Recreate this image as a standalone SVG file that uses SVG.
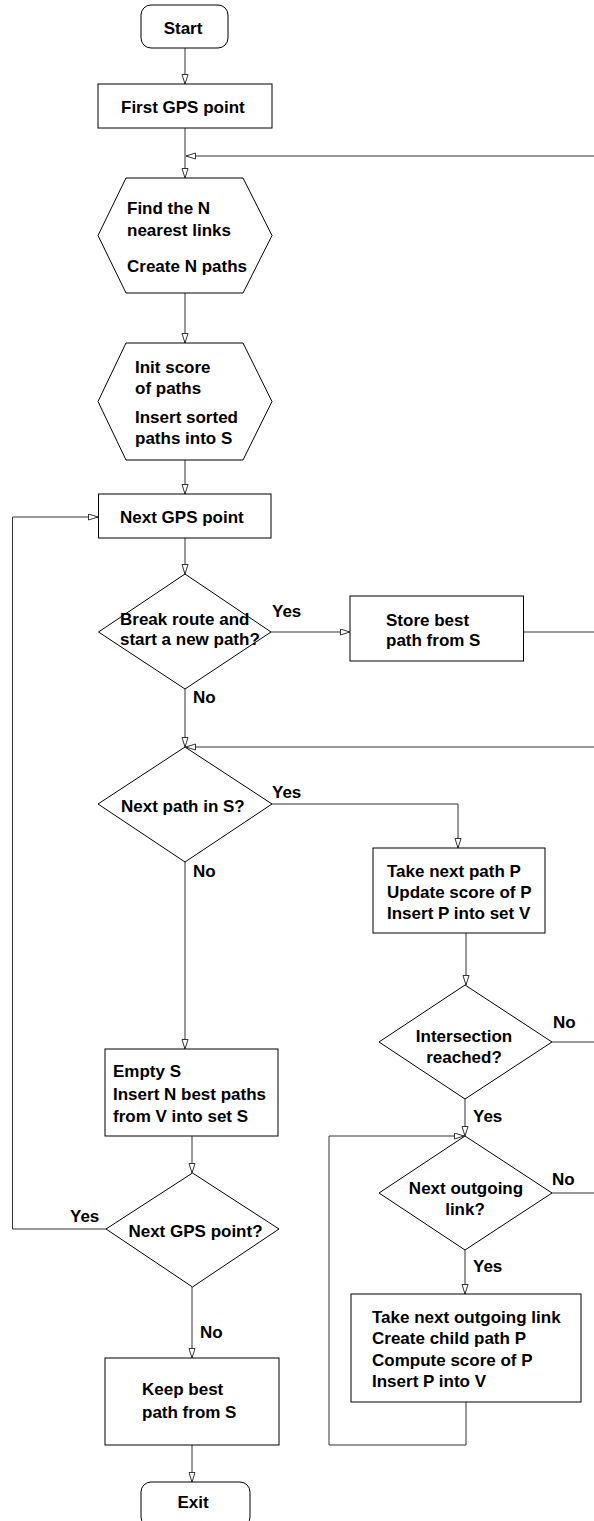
<svg xmlns="http://www.w3.org/2000/svg" width="594" height="1521" viewBox="0 0 594 1521">
<style>
.s{fill:#fff;stroke:#000;stroke-width:1}
.t{font-family:"Liberation Sans",Arial,sans-serif;font-weight:bold;font-size:17px;fill:#000}
.m{text-anchor:middle}
.c{fill:none;stroke:#333;stroke-width:1}
</style>
<defs>
<marker id="a" markerUnits="userSpaceOnUse" markerWidth="11" markerHeight="8" refX="10" refY="3.5" orient="auto">
<path d="M0.5,0.5 L10,3.5 L0.5,6.5 z" fill="#fff" stroke="#333" stroke-width="1"/>
</marker>
</defs>
<rect width="594" height="1521" fill="#fff"/>
<g id="connectors">
<path class="c" d="M185,48 V84" marker-end="url(#a)"/>
<path class="c" d="M185,128 V178" marker-end="url(#a)"/>
<path class="c" d="M594,156 H186" marker-end="url(#a)"/>
<path class="c" d="M185,293 V343" marker-end="url(#a)"/>
<path class="c" d="M185,460 V494" marker-end="url(#a)"/>
<path class="c" d="M185,538 V574" marker-end="url(#a)"/>
<path class="c" d="M271,632 H350" marker-end="url(#a)"/>
<path class="c" d="M523.5,632 H594"/>
<path class="c" d="M185,689 V747" marker-end="url(#a)"/>
<path class="c" d="M594,747 H186" marker-end="url(#a)"/>
<path class="c" d="M272,804 H458 V848" marker-end="url(#a)"/>
<path class="c" d="M185,862 V1049" marker-end="url(#a)"/>
<path class="c" d="M466,933 V985" marker-end="url(#a)"/>
<path class="c" d="M552,1042 H594"/>
<path class="c" d="M465,1099 V1136" marker-end="url(#a)"/>
<path class="c" d="M466,1402 V1445 H329 V1136 H464" marker-end="url(#a)"/>
<path class="c" d="M552,1193 H594"/>
<path class="c" d="M465,1250 V1294" marker-end="url(#a)"/>
<path class="c" d="M192,1136 V1173" marker-end="url(#a)"/>
<path class="c" d="M106,1229 H12.5 V517 H98" marker-end="url(#a)"/>
<path class="c" d="M192,1287 V1358" marker-end="url(#a)"/>
<path class="c" d="M192,1445 V1482" marker-end="url(#a)"/>
</g>
<g id="start"><rect class="s" x="141" y="5" width="87" height="43" rx="10"/><text class="t m" x="183" y="34">Start</text></g>
<g id="first"><rect class="s" x="98" y="84" width="174" height="44"/><text class="t" x="121" y="113">First GPS point</text></g>
<g id="find"><polygon class="s" points="126,178 243,178 272,235.5 243,293 126,293 98,235.5"/>
<text class="t" x="127" y="214">Find the N</text><text class="t" x="127" y="236">nearest links</text><text class="t" x="127" y="272">Create N paths</text></g>
<g id="init"><polygon class="s" points="126,343 243,343 272,401.5 243,460 126,460 98,401.5"/>
<text class="t" x="135" y="373">Init score</text><text class="t" x="135" y="394">of paths</text><text class="t" x="135" y="423">Insert sorted</text><text class="t" x="135" y="444">paths into S</text></g>
<g id="nextgps"><rect class="s" x="98.5" y="494" width="172.5" height="44"/><text class="t" x="120" y="523">Next GPS point</text></g>
<g id="break"><polygon class="s" points="185,574 271,632 185,689 98.5,632"/>
<text class="t" x="120" y="625">Break route and</text><text class="t" x="120" y="645">start a new path?</text>
<text class="t" x="272" y="617">Yes</text><text class="t" x="193" y="703">No</text></g>
<g id="store"><rect class="s" x="350" y="596" width="173.5" height="65"/><text class="t" x="386" y="626">Store best</text><text class="t" x="386" y="646">path from S</text></g>
<g id="nextpath"><polygon class="s" points="185,747 272,804 185,862 98,804"/>
<text class="t" x="121" y="812">Next path in S?</text>
<text class="t" x="272" y="798">Yes</text><text class="t" x="193" y="877">No</text></g>
<g id="take"><rect class="s" x="373" y="848" width="172" height="85"/>
<text class="t" x="387" y="877">Take next path P</text><text class="t" x="387" y="898">Update score of P</text><text class="t" x="387" y="919">Insert P into set V</text></g>
<g id="intersection"><polygon class="s" points="465,985 552,1042 465,1099 379,1042"/>
<text class="t m" x="464" y="1042">Intersection</text><text class="t m" x="464" y="1063">reached?</text>
<text class="t" x="553" y="1028">No</text><text class="t" x="473" y="1122">Yes</text></g>
<g id="empty"><rect class="s" x="105" y="1049" width="173" height="87"/>
<text class="t" x="113" y="1077">Empty S</text><text class="t" x="113" y="1100">Insert N best paths</text><text class="t" x="113" y="1122">from V into set S</text></g>
<g id="outgoing"><polygon class="s" points="465,1136 552,1193 465,1250 379,1193"/>
<text class="t m" x="466" y="1194">Next outgoing</text><text class="t m" x="465" y="1215">link?</text>
<text class="t" x="552" y="1185">No</text><text class="t" x="473" y="1272">Yes</text></g>
<g id="child"><rect class="s" x="351" y="1294" width="230" height="108"/>
<text class="t" x="372" y="1323">Take next outgoing link</text><text class="t" x="372" y="1344">Create child path P</text><text class="t" x="372" y="1366">Compute score of P</text><text class="t" x="372" y="1387">Insert P into V</text></g>
<g id="nextgpsq"><polygon class="s" points="192.5,1173 279,1229 192.5,1287 106,1229"/>
<text class="t m" x="195.5" y="1237">Next GPS point?</text>
<text class="t" x="70" y="1222">Yes</text><text class="t" x="200" y="1338">No</text></g>
<g id="keep"><rect class="s" x="105" y="1358" width="174" height="87"/><text class="t" x="142" y="1395">Keep best</text><text class="t" x="142" y="1418">path from S</text></g>
<g id="exit"><rect class="s" x="141" y="1482" width="109" height="45" rx="10"/><text class="t m" x="193" y="1508">Exit</text></g>
</svg>
